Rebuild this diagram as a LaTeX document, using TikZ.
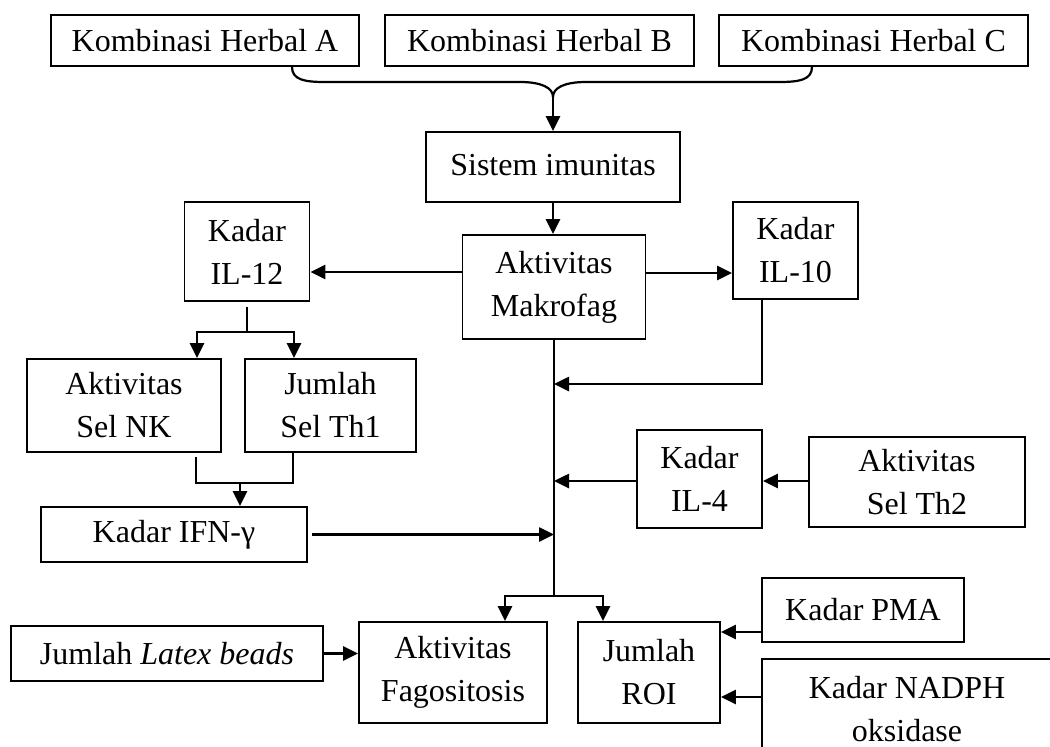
\documentclass[tikz,border=0pt]{standalone}
\usepackage{fontspec}
\setmainfont{Liberation Serif}
\usetikzlibrary{arrows.meta}
\begin{document}
\begin{tikzpicture}[x=1pt,y=-1pt,
  box/.style={draw, line width=1.8pt, inner sep=0pt, align=center, font=\fontsize{32}{43}\selectfont},
  conn/.style={line width=2.6pt},
  arr/.style={conn, -{Triangle[length=15pt,width=14pt]}},
  brace/.style={line width=2.2pt}
]
\useasboundingbox (0,0) rectangle (1050,747);
\clip (0,0) rectangle (1050,747);

% nodes
\node[box, minimum width=308pt, minimum height=51pt] (A) at (205,40.5) {Kombinasi Herbal A};
\node[box, minimum width=309pt, minimum height=51pt] (B) at (539.5,40.5) {Kombinasi Herbal B};
\node[box, minimum width=309pt, minimum height=51pt] (C) at (873.5,40.5) {Kombinasi Herbal C};
\node[box, minimum width=254pt, minimum height=70pt, text depth=4pt] (Sis) at (553,167) {Sistem imunitas};
\node[box, minimum width=183pt, minimum height=104pt] (Mak) at (554,287) {Aktivitas\\Makrofag};
\node[box, minimum width=125pt, minimum height=99pt] (IL12) at (247,251.5) {Kadar\\IL-12};
\node[box, minimum width=125pt, minimum height=97pt] (IL10) at (795.5,250.5) {Kadar\\IL-10};
\node[box, minimum width=194pt, minimum height=93pt] (NK) at (124,405.5) {Aktivitas\\Sel NK};
\node[box, minimum width=171pt, minimum height=93pt] (Th1) at (330.5,405.5) {Jumlah\\Sel Th1};
\node[box, minimum width=266pt, minimum height=55pt] (IFN) at (174,534.5) {Kadar IFN-γ};
\node[box, minimum width=125pt, minimum height=98pt] (IL4) at (699.5,479) {Kadar\\IL-4};
\node[box, minimum width=216pt, minimum height=90pt] (Th2) at (917,482) {Aktivitas\\Sel Th2};
\node[box, minimum width=312pt, minimum height=55pt] (Lat) at (167,653.5) {Jumlah \textit{Latex beads}};
\node[box, minimum width=188pt, minimum height=101pt] (Fag) at (453,672.5) {Aktivitas\\Fagositosis};
\node[box, minimum width=142pt, minimum height=101pt] (ROI) at (649,672.5) {Jumlah\\ROI};
\node[box, minimum width=202pt, minimum height=64pt] (PMA) at (863,610) {Kadar PMA};
\node[box, minimum width=290pt, minimum height=100pt] (NAD) at (907,709) {Kadar NADPH\\oksidase};

% brace from the three herbal boxes
\coordinate (ba) at (A.south -| 292,0);
\coordinate (bc) at (C.south -| 812,0);
\coordinate (bj) at (553,97);
\draw[brace] (ba) .. controls (292,80) and (305,82) .. (325,82) -- (520,82)
  .. controls (542,82) and (553,88) .. (bj);
\draw[brace] (bc) .. controls (812,80) and (799,82) .. (779,82) -- (586,82)
  .. controls (564,82) and (553,88) .. (bj);
\draw[arr] (bj) -- (bj |- Sis.north);

% Sistem -> Makrofag
\draw[arr] (Sis.south) -- (Sis.south |- Mak.north);

% Makrofag -> IL-12 / IL-10
\draw[arr] (Mak.west |- 0,272) -- (IL12.east |- 0,272);
\draw[arr] (Mak.east |- 0,273) -- (IL10.west |- 0,273);

% IL-12 -> NK, Th1
\coordinate (j1) at (IL12.south |- 0,332);
\draw[conn] ([yshift=-5pt]IL12.south) -- (j1);
\draw[arr] (j1) -| (NK.north -| 197,0);
\draw[arr] (j1) -| (Th1.north -| 294,0);

% NK, Th1 -> IFN
\coordinate (j2) at (240,483);
\draw[conn] ([yshift=-4pt]NK.south -| 196,0) |- (j2);
\draw[conn] (Th1.south -| 293,0) |- (j2);
\draw[arr] (j2) -- (IFN.north -| j2);

% main vertical line
\coordinate (j3) at (Mak.south |- 0,596);
\draw[conn] (Mak.south) -- (j3);

% inputs to main line
\draw[arr] (IL10.south -| 762,0) |- (Mak.south |- 0,384);
\draw[arr] (IL4.west |- 0,481) -- (Mak.south |- 0,481);
\draw[arr] (Th2.west |- 0,481) -- (IL4.east |- 0,481);
\draw[arr] ([xshift=4pt]IFN.east) -- (Mak.south |- IFN.east);

% branches to Fagositosis and ROI
\draw[arr] (j3) -| (Fag.north -| 505,0);
\draw[arr] (j3) -| (ROI.north -| 603,0);

% other inputs
\draw[arr] (Lat.east) -- (Fag.west |- Lat.east);
\draw[arr] (PMA.west |- 0,632) -- (ROI.east |- 0,632);
\draw[arr] (NAD.west |- 0,697) -- (ROI.east |- 0,697);
\end{tikzpicture}
\end{document}
